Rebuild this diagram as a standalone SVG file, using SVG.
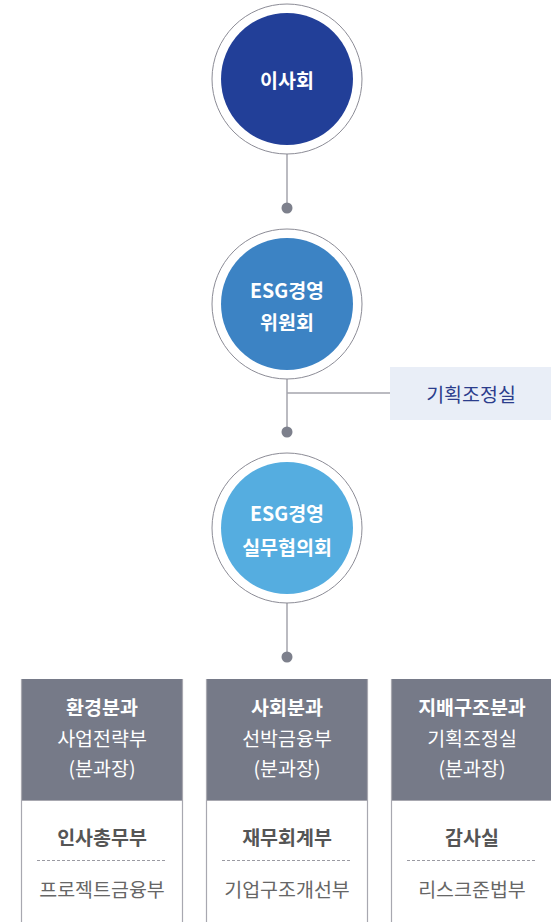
<svg xmlns="http://www.w3.org/2000/svg" width="551" height="922" viewBox="0 0 551 922">
<style>
text{font-family:"Noto Sans CJK KR","Noto Sans",sans-serif;text-anchor:middle;dominant-baseline:central}
.ring{fill:#fff;stroke:#8c8c96;stroke-width:1}
.ct{fill:#fff;font-size:19.5px;font-weight:700}
.hdr{fill:#767a88}
.ht{fill:#fff;font-size:19.5px}
.hb{font-weight:700}
.bd{fill:none;stroke:#a8a8b0;stroke-width:1.2}
.bt{fill:#555;font-size:19.5px;font-weight:700}
.rt{fill:#666;font-size:19.5px}
.dash{stroke:#9a9aa2;stroke-width:1;stroke-dasharray:3 2}
.ln{stroke:#a5a5ad;stroke-width:1.5;fill:none}
.dot{fill:#7d808c}
</style>
<g id="connectors">
<line class="ln" x1="287" y1="154" x2="287" y2="208"/>
<circle class="dot" cx="287" cy="208" r="5.5"/>
<line class="ln" x1="287" y1="379" x2="287" y2="432"/>
<line class="ln" x1="287" y1="393" x2="390" y2="393"/>
<circle class="dot" cx="287" cy="432" r="5.5"/>
<line class="ln" x1="287" y1="603" x2="287" y2="657"/>
<circle class="dot" cx="287" cy="657" r="5.5"/>
</g>
<g id="board">
<circle class="ring" cx="287" cy="79" r="75"/>
<circle cx="287" cy="79" r="66" fill="#223f98"/>
<text class="ct" x="287" y="79">이사회</text>
</g>
<g id="esg-committee">
<circle class="ring" cx="287" cy="304" r="75"/>
<circle cx="287" cy="304" r="66" fill="#3c83c4"/>
<text class="ct" x="287" y="289">ESG경영</text>
<text class="ct" x="287" y="321">위원회</text>
</g>
<g id="planning">
<rect x="390" y="367" width="161" height="53" fill="#e9eef7"/>
<text x="471" y="393" font-size="19.5" fill="#2b3d8c">기획조정실</text>
</g>
<g id="esg-council">
<circle class="ring" cx="287" cy="528" r="75"/>
<circle cx="287" cy="528" r="66" fill="#55ade0"/>
<text class="ct" x="287" y="512">ESG경영</text>
<text class="ct" x="287" y="546">실무협의회</text>
</g>
<g id="env">
<rect class="hdr" x="21" y="679" width="162" height="121"/>
<path class="bd" d="M21.5 679V922M182.5 679V922M21 800.5H183"/>
<text class="ht hb" x="102" y="706">환경분과</text>
<text class="ht" x="102" y="737">사업전략부</text>
<text class="ht" x="102" y="767">(분과장)</text>
<text class="bt" x="102" y="836">인사총무부</text>
<line class="dash" x1="37" y1="860.5" x2="167" y2="860.5"/>
<text class="rt" x="102" y="888">프로젝트금융부</text>
</g>
<g id="social">
<rect class="hdr" x="206" y="679" width="162" height="121"/>
<path class="bd" d="M206.5 679V922M367.5 679V922M206 800.5H368"/>
<text class="ht hb" x="287" y="706">사회분과</text>
<text class="ht" x="287" y="737">선박금융부</text>
<text class="ht" x="287" y="767">(분과장)</text>
<text class="bt" x="287" y="836">재무회계부</text>
<line class="dash" x1="222" y1="860.5" x2="352" y2="860.5"/>
<text class="rt" x="287" y="888">기업구조개선부</text>
</g>
<g id="governance">
<rect class="hdr" x="391" y="679" width="162" height="121"/>
<path class="bd" d="M391.5 679V922M391 800.5H553"/>
<text class="ht hb" x="472" y="706">지배구조분과</text>
<text class="ht" x="472" y="737">기획조정실</text>
<text class="ht" x="472" y="767">(분과장)</text>
<text class="bt" x="472" y="836">감사실</text>
<line class="dash" x1="407" y1="860.5" x2="537" y2="860.5"/>
<text class="rt" x="472" y="888">리스크준법부</text>
</g>
</svg>
